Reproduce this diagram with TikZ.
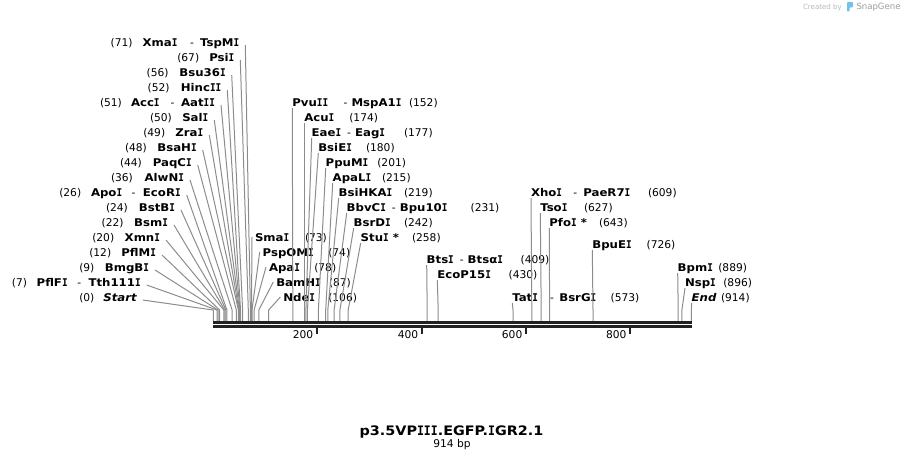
\documentclass[tikz,border=0pt]{standalone}
\usepackage{fontspec}
\setmainfont{DejaVu Sans}
\newfontfamily\namefont[FakeStretch=1.1]{DejaVu Sans}
\newfontfamily\monofam[FakeStretch=0.88]{DejaVu Sans Mono}
\newcommand\sI{{\monofam I}}
\definecolor{conncol}{HTML}{8C8C8C}
\definecolor{axiscol}{HTML}{222222}
\definecolor{logogray}{HTML}{B8B8B8}
\definecolor{logodark}{HTML}{9C9C9C}
\definecolor{logoblue}{HTML}{72C3EC}
\begin{document}
\begin{tikzpicture}[x=0.75pt,y=-0.75pt,
  every node/.style={inner sep=0pt,outer sep=0pt},
  nm/.style={font=\fontsize{8}{9.6}\selectfont\namefont\bfseries,anchor=base west},
  nme/.style={font=\fontsize{8}{9.6}\selectfont\namefont\bfseries,anchor=base east},
  nmi/.style={font=\fontsize{8}{9.6}\selectfont\namefont\bfseries\itshape,anchor=base west},
  nmie/.style={font=\fontsize{8}{9.6}\selectfont\namefont\bfseries\itshape,anchor=base east},
  num/.style={font=\fontsize{8}{9.6}\selectfont,anchor=base west},
  nume/.style={font=\fontsize{8}{9.6}\selectfont,anchor=base east},
  conn/.style={draw=conncol,line width=0.75pt},
  axisline/.style={draw=axiscol,line width=2pt},
  tickmark/.style={draw=axiscol,line width=1.5pt},
  lfrom/.style={xshift=4.5pt,yshift=0.75pt},
  rfrom/.style={yshift=-1.5pt},
  mfrom/.style={xshift=-2.25pt,yshift=3pt},
  dashgap/.style={xshift=4.5pt},
  aftergap/.style={xshift=3pt}
]
\useasboundingbox (0,0) rectangle (905,460);

% axis-top reference
\coordinate (axt) at (0,321);

% ---------- left fan labels ----------
\node[num] (l1n) at (110.7,46) {(71)};
\node[nm] (l1a) at (142.7,46) {Xma\sI};
\node[num] (l1d) at (190,46) {-};
\node[nme] (l1) at (239.3,46) {TspM\sI};
\node[num] (l2n) at (177.3,61) {(67)};
\node[nme] (l2) at (234.3,61) {Psi\sI};
\node[num] (l3n) at (146.7,76) {(56)};
\node[nme] (l3) at (225.7,76) {Bsu36\sI};
\node[num] (l4n) at (147.7,91) {(52)};
\node[nme] (l4) at (221.3,91) {Hinc\sI\sI};
\node[num] (l5n) at (100,106) {(51)};
\node[nm] (l5a) at (131,106) {Acc\sI};
\node[num] (l5d) at (170.7,106) {-};
\node[nme] (l5) at (215,106) {Aat\sI\sI};
\node[num] (l6n) at (150,121) {(50)};
\node[nme] (l6) at (208.3,121) {Sal\sI};
\node[num] (l7n) at (143.3,136) {(49)};
\node[nme] (l7) at (203.3,136) {Zra\sI};
\node[num] (l8n) at (125,151) {(48)};
\node[nme] (l8) at (196.7,151) {BsaH\sI};
\node[num] (l9n) at (120,166) {(44)};
\node[nme] (l9) at (191.7,166) {PaqC\sI};
\node[num] (l10n) at (111,181) {(36)};
\node[nme] (l10) at (184,181) {AlwN\sI};
\node[num] (l11n) at (59.3,196) {(26)};
\node[nm] (l11a) at (91,196) {Apo\sI};
\node[num] (l11d) at (131.7,196) {-};
\node[nme] (l11) at (180.7,196) {EcoR\sI};
\node[num] (l12n) at (106,211) {(24)};
\node[nme] (l12) at (175,211) {BstB\sI};
\node[num] (l13n) at (101.7,226) {(22)};
\node[nme] (l13) at (168,226) {Bsm\sI};
\node[num] (l14n) at (92.3,241) {(20)};
\node[nme] (l14) at (160,241) {Xmn\sI};
\node[num] (l15n) at (89.3,256) {(12)};
\node[nme] (l15) at (156,256) {PflM\sI};
\node[num] (l16n) at (79.3,271) {(9)};
\node[nme] (l16) at (149,271) {BmgB\sI};
\node[num] (l17n) at (12,286) {(7)};
\node[nm] (l17a) at (36.7,286) {PflF\sI};
\node[num] (l17d) at (77.3,286) {-};
\node[nme] (l17) at (140.7,286) {Tth111\sI};
\node[num] (l18n) at (79.3,301) {(0)};
\node[nmie] (l18) at (136.7,301) {Start};

% site coordinates (y = 310)
\foreach \id/\x in {b71/250.4,b67/248.3,b56/242.6,b52/240.5,b51/240.0,b50/239.5,b49/238.9,
  b48/238.4,b44/236.3,b36/232.1,b26/226.9,b24/225.9,b22/224.8,b20/223.8,b12/219.6,b9/218.0,
  b7/217.0,b0/213.3,b73/251.5,b74/252.0,b78/254.1,b87/258.8,b106/268.7,
  b152/292.8,b174/304.3,b177/305.9,b180/307.4,b201/318.4,b215/325.7,b219/327.8,b231/334.1,
  b242/339.9,b258/348.2,b409/427.2,b430/438.2,b573/513.0,b609/531.8,b627/541.2,b643/549.6,
  b726/593.0,b889/678.2,b896/681.9,b914/691.3}
  {\coordinate (\id) at (\x,310);}

\foreach \lab/\site in {l1/b71,l2/b67,l3/b56,l4/b52,l5/b51,l6/b50,l7/b49,l8/b48,l9/b44,
  l10/b36,l11/b26,l12/b24,l13/b22,l14/b20,l15/b12,l16/b9,l17/b7,l18/b0}
  {\draw[conn] ([lfrom]\lab.base east) -- (\site) -- (\site |- axt);}

% ---------- middle-left labels ----------
\node[nm] (s1) at (255,241) {Sma\sI};
\node[num] (s1n) at (305,241) {(73)};
\node[nm] (s2) at (262.7,256) {PspOM\sI};
\node[num] (s2n) at (328.3,256) {(74)};
\node[nm] (s3) at (269,271) {Apa\sI};
\node[num] (s3n) at (314.3,271) {(78)};
\node[nm] (s4) at (276.3,286) {BamH\sI};
\node[num] (s4n) at (329,286) {(87)};
\node[nm] (s5) at (283.3,301) {Nde\sI};
\node[num] (s5n) at (328.3,301) {(106)};
\foreach \lab/\site in {s1/b73,s2/b74,s3/b78,s4/b87,s5/b106}
  {\draw[conn] ([mfrom]\lab.base west) -- (\site) -- (\site |- axt);}

% ---------- middle-right labels ----------
\node[nm] (m1) at (292.3,106) {Pvu\sI\sI};
\node[num] (m1d) at (343.5,106) {-};
\node[nm] (m1b) at (351.5,106) {MspA1\sI};
\node[num] (m1n) at (409,106) {(152)};
\node[nm] (m2) at (304.3,121) {Acu\sI};
\node[num] (m2n) at (349.3,121) {(174)};
\node[nm] (m3) at (311.7,136) {Eae\sI};
\node[num,anchor=base west] (m3d) at ([dashgap]m3.base east) {-};
\node[nm] (m3b) at ([aftergap]m3d.base east) {Eag\sI};
\node[num] (m3n) at (404,136) {(177)};
\node[nm] (m4) at (318.3,151) {BsiE\sI};
\node[num] (m4n) at (366,151) {(180)};
\node[nm] (m5) at (325.7,166) {PpuM\sI};
\node[num] (m5n) at (377.3,166) {(201)};
\node[nm] (m6) at (332.7,181) {ApaL\sI};
\node[num] (m6n) at (382,181) {(215)};
\node[nm] (m7) at (338.7,196) {BsiHKA\sI};
\node[num] (m7n) at (404,196) {(219)};
\node[nm] (m8) at (346.7,211) {BbvC\sI};
\node[num] (m8d) at ([dashgap]m8.base east) {-};
\node[nm] (m8b) at ([aftergap]m8d.base east) {Bpu10\sI};
\node[num] (m8n) at (470.7,211) {(231)};
\node[nm] (m9) at (353.7,226) {BsrD\sI};
\node[num] (m9n) at (404,226) {(242)};
\node[nm] (m10) at (360.7,241) {Stu\sI{} *};
\node[num] (m10n) at (412,241) {(258)};
\foreach \lab/\site in {m1/b152,m2/b174,m3/b177,m4/b180,m5/b201,m6/b215,m7/b219,
  m8/b231,m9/b242,m10/b258}
  {\draw[conn] ([rfrom]\lab.base west) -- (\site) -- (\site |- axt);}

% ---------- right labels ----------
\node[nm] (r1) at (426.7,263) {Bts\sI};
\node[num] (r1d) at ([dashgap]r1.base east) {-};
\node[nm] (r1b) at ([aftergap]r1d.base east) {Bts\char"03B1\sI};
\node[num] (r1n) at (520.7,263) {(409)};
\node[nm] (r2) at (437.3,278) {EcoP15\sI};
\node[num] (r2n) at (508.7,278) {(430)};
\node[nm] (r3) at (512.3,301) {Tat\sI};
\node[num] (r3d) at (550,301) {-};
\node[nm] (r3b) at (559.3,301) {BsrG\sI};
\node[num] (r3n) at (610.7,301) {(573)};
\node[nm] (r4) at (531,196) {Xho\sI};
\node[num] (r4d) at (573.3,196) {-};
\node[nm] (r4b) at (583.3,196) {PaeR7\sI};
\node[num] (r4n) at (648,196) {(609)};
\node[nm] (r5) at (540.3,211) {Tso\sI};
\node[num] (r5n) at (584,211) {(627)};
\node[nm] (r6) at (549.3,226) {Pfo\sI{} *};
\node[num] (r6n) at (599,226) {(643)};
\node[nm] (r7) at (592.3,248) {BpuE\sI};
\node[num] (r7n) at (646.7,248) {(726)};
\node[nm] (r8) at (677.7,271) {Bpm\sI};
\node[num] (r8n) at (718.3,271) {(889)};
\node[nm] (r9) at (685,286) {Nsp\sI};
\node[num] (r9n) at (723.3,286) {(896)};
\node[nmi] (r10) at (691.7,301) {End};
\node[num] (r10n) at (721,301) {(914)};
\foreach \lab/\site in {r1/b409,r2/b430,r3/b573,r4/b609,r5/b627,r6/b643,r7/b726,
  r8/b889,r9/b896,r10/b914}
  {\draw[conn] ([rfrom]\lab.base west) -- (\site) -- (\site |- axt);}

% ---------- axis ----------
\coordinate (ax0) at (213,322.3);
\coordinate (ax1) at (691.8,322.3);
\draw[axisline] (ax0) -- (ax1);
\draw[axisline] ([yshift=-3pt]ax0) -- ([yshift=-3pt]ax1);
\foreach \x/\t in {316.7/200,421.7/400,525.8/600,630/800}{
  \draw[tickmark] (\x,327.5) -- (\x,333.5);
  \node[nume] (t\t) at (\x-3.5,338) {\t};
}

% ---------- title ----------
\node[font=\fontsize{9.8}{12}\selectfont\namefont\bfseries,anchor=base] (title) at (451.5,435)
  {p3.5VP\sI\sI\sI.EGFP.\sI GR2.1};
\node[font=\fontsize{8}{9.6}\selectfont,anchor=base] (size) at (452,447) {914 bp};

% ---------- logo ----------
\node[font=\fontsize{5.3}{6}\selectfont,text=logogray,anchor=base west] (cb) at (803,9.5) {Created by};
\fill[logoblue,rounded corners=0.6pt] (847,2) -- (853,2) -- (853,7.5) -- (849.6,7.5) -- (849.6,11.5) -- (847,11.5) -- cycle;
\node[font=\fontsize{6.4}{7}\selectfont,text=logodark,anchor=base west] (sg) at (856.5,10) {SnapGene};
\end{tikzpicture}
\end{document}
